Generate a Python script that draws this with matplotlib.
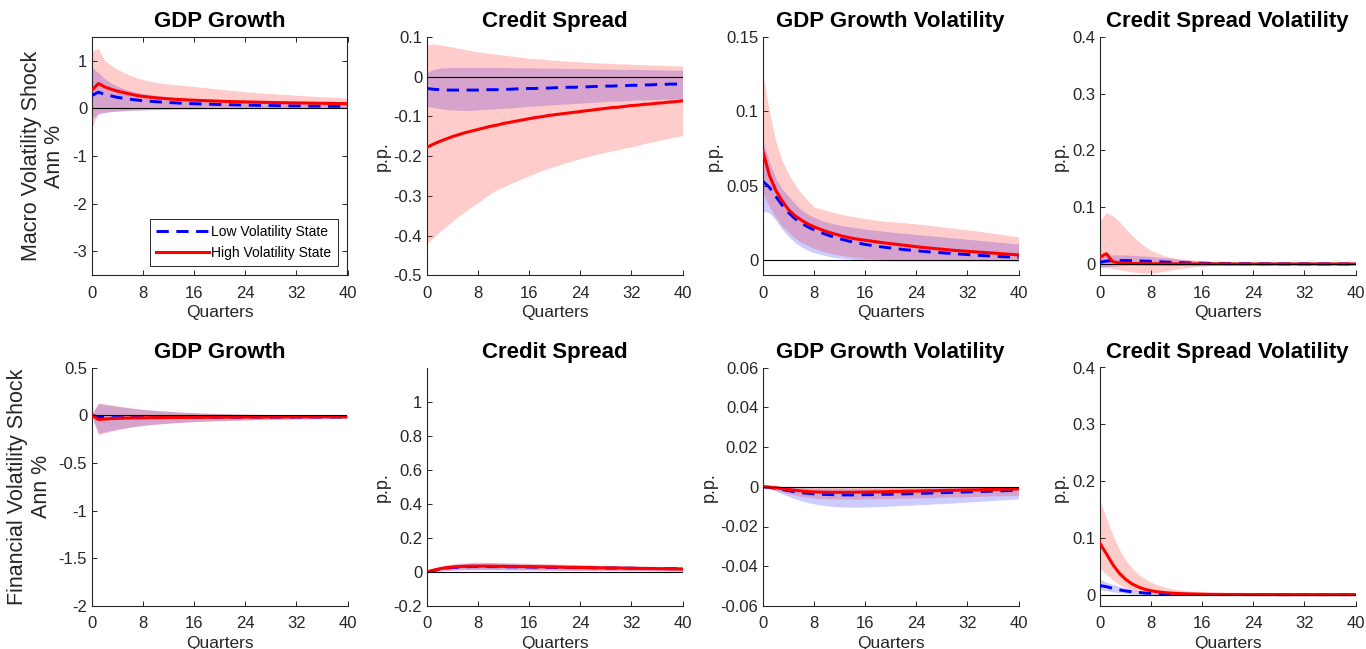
import matplotlib
matplotlib.use("Agg")
import matplotlib.pyplot as plt
from matplotlib.ticker import FuncFormatter, FixedLocator
from matplotlib.lines import Line2D

plt.rcParams['font.family'] = ['Liberation Sans', 'DejaVu Sans']
plt.rcParams['axes.unicode_minus'] = False

quarters = list(range(41))
xticks = [0, 8, 16, 24, 32, 40]
titles = ["GDP Growth", "Credit Spread", "GDP Growth Volatility", "Credit Spread Volatility"]
row_labels = ["Macro Volatility Shock\nAnn %", "Financial Volatility Shock\nAnn %"]
legend_labels = ["Low Volatility State", "High Volatility State"]

# ---------------- Macro volatility shock: GDP growth ----------------
m_gdp_hi = [0.38,0.52,0.45,0.40,0.36,0.33,0.30,0.27,0.25,0.235,
            0.22,0.21,0.20,0.19,0.183,0.176,0.17,0.165,0.16,0.155,
            0.15,0.146,0.142,0.138,0.135,0.132,0.129,0.126,0.123,0.12,
            0.118,0.116,0.114,0.112,0.11,0.108,0.106,0.104,0.102,0.10,
            0.098]
m_gdp_lo = [0.27,0.34,0.29,0.26,0.23,0.21,0.19,0.175,0.16,0.15,
            0.14,0.13,0.122,0.115,0.108,0.102,0.097,0.092,0.088,0.084,
            0.08,0.077,0.074,0.071,0.068,0.066,0.063,0.061,0.059,0.057,
            0.055,0.053,0.051,0.05,0.048,0.047,0.045,0.044,0.043,0.042,
            0.04]
m_gdp_hi_up = [1.20,1.26,1.00,0.90,0.82,0.75,0.69,0.64,0.60,0.57,
               0.545,0.525,0.51,0.495,0.482,0.47,0.458,0.445,0.43,0.415,
               0.40,0.39,0.375,0.36,0.345,0.337,0.328,0.32,0.31,0.30,
               0.295,0.285,0.275,0.267,0.26,0.252,0.245,0.238,0.23,0.222,
               0.215]
m_gdp_hi_dn = [-0.40,-0.10,-0.08,-0.065,-0.055,-0.047,-0.04,-0.034,-0.03,-0.026,
               -0.022,-0.019,-0.016,-0.013,-0.011,-0.009,-0.007,-0.006,-0.005,-0.004,
               -0.003,-0.002,-0.001,0.0,0.0,0.001,0.001,0.002,0.002,0.003,
               0.003,0.004,0.004,0.005,0.005,0.006,0.006,0.007,0.007,0.008,
               0.008]
m_gdp_lo_up = [0.85,0.75,0.62,0.53,0.46,0.41,0.37,0.34,0.31,0.29,
               0.27,0.255,0.24,0.228,0.217,0.207,0.198,0.19,0.183,0.176,
               0.17,0.164,0.158,0.153,0.148,0.143,0.139,0.135,0.131,0.127,
               0.124,0.121,0.118,0.115,0.112,0.11,0.107,0.105,0.103,0.101,
               0.099]
m_gdp_lo_dn = [-0.22,-0.12,-0.09,-0.07,-0.058,-0.05,-0.043,-0.037,-0.032,-0.028,
               -0.025,-0.022,-0.02,-0.018,-0.016,-0.015,-0.014,-0.013,-0.012,-0.011,
               -0.01,-0.0095,-0.009,-0.0085,-0.008,-0.0075,-0.007,-0.0068,-0.0065,-0.0062,
               -0.006,-0.0058,-0.0056,-0.0054,-0.0052,-0.005,-0.0048,-0.0046,-0.0044,-0.0042,
               -0.004]

# ---------------- Macro volatility shock: Credit spread ----------------
m_cs_hi = [-0.178,-0.170,-0.163,-0.157,-0.151,-0.146,-0.141,-0.137,-0.133,-0.129,
           -0.125,-0.122,-0.118,-0.115,-0.112,-0.109,-0.106,-0.103,-0.101,-0.098,
           -0.096,-0.094,-0.092,-0.090,-0.088,-0.086,-0.084,-0.082,-0.080,-0.078,
           -0.077,-0.075,-0.073,-0.072,-0.070,-0.069,-0.067,-0.066,-0.064,-0.063,
           -0.061]
m_cs_lo = [-0.030,-0.032,-0.033,-0.034,-0.034,-0.034,-0.034,-0.034,-0.034,-0.033,
           -0.033,-0.033,-0.032,-0.032,-0.031,-0.031,-0.030,-0.030,-0.029,-0.029,
           -0.028,-0.028,-0.027,-0.027,-0.026,-0.026,-0.025,-0.025,-0.024,-0.024,
           -0.023,-0.023,-0.022,-0.022,-0.021,-0.021,-0.020,-0.020,-0.019,-0.019,
           -0.018]
m_cs_hi_up = [0.079,0.082,0.080,0.077,0.074,0.071,0.068,0.065,0.062,0.060,
              0.058,0.056,0.054,0.052,0.050,0.048,0.046,0.045,0.044,0.042,
              0.041,0.040,0.039,0.038,0.037,0.036,0.035,0.034,0.034,0.033,
              0.032,0.032,0.031,0.030,0.030,0.029,0.029,0.028,0.028,0.027,
              0.027]
m_cs_hi_dn = [-0.420,-0.405,-0.390,-0.377,-0.364,-0.351,-0.339,-0.328,-0.317,-0.305,
              -0.294,-0.284,-0.278,-0.270,-0.263,-0.256,-0.250,-0.243,-0.237,-0.231,
              -0.226,-0.221,-0.216,-0.211,-0.206,-0.202,-0.198,-0.194,-0.190,-0.187,
              -0.184,-0.180,-0.177,-0.173,-0.169,-0.165,-0.162,-0.158,-0.155,-0.152,
              -0.149]
m_cs_lo_up = [0.010,0.018,0.021,0.022,0.023,0.023,0.023,0.023,0.023,0.023,
              0.023,0.023,0.023,0.022,0.022,0.022,0.022,0.022,0.021,0.021,
              0.021,0.021,0.020,0.020,0.020,0.020,0.019,0.019,0.019,0.019,
              0.018,0.018,0.018,0.018,0.017,0.017,0.017,0.017,0.016,0.016,
              0.016]
m_cs_lo_dn = [-0.075,-0.078,-0.081,-0.083,-0.084,-0.085,-0.085,-0.085,-0.084,-0.083,
              -0.082,-0.081,-0.080,-0.079,-0.078,-0.076,-0.075,-0.074,-0.073,-0.072,
              -0.071,-0.070,-0.069,-0.068,-0.067,-0.066,-0.065,-0.064,-0.063,-0.062,
              -0.062,-0.061,-0.060,-0.059,-0.059,-0.058,-0.058,-0.057,-0.057,-0.056,
              -0.056]

# ---------------- Macro volatility shock: GDP growth volatility ----------------
m_gv_hi = [0.073,0.057,0.047,0.040,0.034,0.030,0.027,0.0245,0.0225,0.0208,
           0.0193,0.018,0.0168,0.0157,0.0148,0.0141,0.0135,0.0129,0.0123,0.0117,
           0.0112,0.0107,0.0102,0.0097,0.0092,0.0087,0.0083,0.0079,0.0075,0.0071,
           0.0067,0.0064,0.0061,0.0058,0.0055,0.0052,0.0049,0.0046,0.0043,0.004,
           0.0037]
m_gv_lo = [0.053,0.049,0.043,0.037,0.032,0.028,0.025,0.0225,0.0205,0.0188,
           0.0172,0.0158,0.0145,0.0134,0.0124,0.0115,0.0107,0.01,0.0094,0.0088,
           0.0083,0.0078,0.0073,0.0069,0.0065,0.0061,0.0057,0.0054,0.0051,0.0048,
           0.0045,0.0042,0.0039,0.0036,0.0033,0.0031,0.0029,0.0026,0.0024,0.0022,
           0.002]
m_gv_hi_up = [0.125,0.10,0.08,0.067,0.058,0.051,0.045,0.040,0.036,0.0345,
              0.0333,0.0322,0.0312,0.0303,0.0295,0.0287,0.028,0.0274,0.0268,0.0262,
              0.026,0.0257,0.0253,0.0249,0.0245,0.024,0.0235,0.023,0.0225,0.022,
              0.0215,0.021,0.0205,0.02,0.0194,0.0188,0.0182,0.0176,0.017,0.0164,
              0.0158]
m_gv_hi_dn = [0.045,0.036,0.029,0.023,0.019,0.015,0.012,0.010,0.008,0.0065,
              0.0053,0.0043,0.0035,0.0028,0.0022,0.0017,0.0013,0.001,0.0008,0.0006,
              0.0005,0.0004,0.0004,0.0004,0.0003,0.0003,0.0003,0.0003,0.0003,0.0003,
              0.0003,0.0003,0.0003,0.0003,0.0003,0.0003,0.0003,0.0003,0.0003,0.0003,
              0.0003]
m_gv_lo_up = [0.080,0.066,0.055,0.048,0.043,0.038,0.034,0.031,0.029,0.027,
              0.0257,0.0246,0.0237,0.0229,0.0222,0.0216,0.021,0.0205,0.02,0.0195,
              0.019,0.0186,0.0182,0.0178,0.0174,0.017,0.0166,0.0162,0.0158,0.0154,
              0.015,0.0146,0.0142,0.0138,0.0134,0.013,0.0126,0.0122,0.0118,0.0114,
              0.011]
m_gv_lo_dn = [0.033,0.032,0.027,0.021,0.016,0.012,0.009,0.0068,0.0052,0.004,
              0.003,0.0022,0.0016,0.0011,0.0007,0.0004,0.0002,0.0,-0.0002,-0.0003,
              -0.0004,-0.0005,-0.0005,-0.0005,-0.0005,-0.0005,-0.0005,-0.0005,-0.0005,-0.0005,
              -0.0005,-0.0005,-0.0005,-0.0005,-0.0005,-0.0005,-0.0005,-0.0005,-0.0005,-0.0005,
              -0.0005]

# ---------------- Macro volatility shock: Credit spread volatility ----------------
m_sv_hi = [0.012,0.018,0.004,0.002,0.0012,0.0008,0.0005,0.0004,0.0003,0.0002,
           0.0002,0.0001,0.0001,0.0001,0.0001,0.0001,0.0001,0.0001,0.0001,0.0001,
           0.0,0.0,0.0,0.0,0.0,0.0,0.0,0.0,0.0,0.0,
           0.0,0.0,0.0,0.0,0.0,0.0,0.0,0.0,0.0,0.0,
           0.0]
m_sv_lo = [0.003,0.005,0.006,0.006,0.006,0.0058,0.0055,0.005,0.0045,0.004,
           0.0035,0.003,0.0026,0.0022,0.0018,0.0015,0.0012,0.001,0.0008,0.0006,
           0.0005,0.0004,0.0004,0.0003,0.0003,0.0002,0.0002,0.0002,0.0001,0.0001,
           0.0001,0.0001,0.0001,0.0,0.0,0.0,0.0,0.0,0.0,0.0,
           0.0]
m_sv_hi_up = [0.075,0.091,0.085,0.075,0.062,0.050,0.040,0.031,0.024,0.019,
              0.015,0.012,0.010,0.0085,0.0072,0.0062,0.0054,0.0047,0.0041,0.0036,
              0.0032,0.0029,0.0026,0.0024,0.0022,0.002,0.0019,0.0018,0.0017,0.0016,
              0.0015,0.0014,0.0014,0.0013,0.0013,0.0012,0.0012,0.0011,0.0011,0.001,
              0.001]
m_sv_hi_dn = [-0.005,-0.006,-0.008,-0.010,-0.012,-0.014,-0.015,-0.016,-0.016,-0.015,
              -0.013,-0.011,-0.009,-0.0075,-0.006,-0.005,-0.004,-0.0033,-0.0027,-0.0022,
              -0.0018,-0.0015,-0.0013,-0.0011,-0.001,-0.0009,-0.0008,-0.0007,-0.0007,-0.0006,
              -0.0006,-0.0005,-0.0005,-0.0005,-0.0004,-0.0004,-0.0004,-0.0004,-0.0003,-0.0003,
              -0.0003]
m_sv_lo_up = [0.012,0.015,0.016,0.016,0.016,0.015,0.0145,0.014,0.013,0.012,
              0.011,0.0098,0.0087,0.0077,0.0068,0.006,0.0053,0.0046,0.004,0.0035,
              0.003,0.0027,0.0024,0.0021,0.0019,0.0017,0.0015,0.0013,0.0012,0.0011,
              0.001,0.0009,0.0008,0.0008,0.0007,0.0007,0.0006,0.0006,0.0005,0.0005,
              0.0005]
m_sv_lo_dn = [-0.006,-0.005,-0.004,-0.003,-0.0025,-0.002,-0.0018,-0.0016,-0.0014,-0.0013,
              -0.0012,-0.0011,-0.001,-0.0009,-0.0008,-0.0008,-0.0007,-0.0007,-0.0006,-0.0006,
              -0.0005,-0.0005,-0.0005,-0.0005,-0.0005,-0.0005,-0.0005,-0.0005,-0.0005,-0.0005,
              -0.0005,-0.0005,-0.0005,-0.0005,-0.0005,-0.0005,-0.0005,-0.0005,-0.0005,-0.0005,
              -0.0005]

# ---------------- Financial volatility shock: GDP growth ----------------
f_gdp_hi = [0.0,-0.045,-0.040,-0.036,-0.033,-0.031,-0.029,-0.028,-0.027,-0.026,
            -0.025,-0.025,-0.024,-0.024,-0.023,-0.023,-0.022,-0.022,-0.022,-0.021,
            -0.021,-0.021,-0.020,-0.020,-0.020,-0.019,-0.019,-0.019,-0.018,-0.018,
            -0.018,-0.018,-0.017,-0.017,-0.017,-0.017,-0.016,-0.016,-0.016,-0.016,
            -0.016]
f_gdp_lo = [0.0,-0.020,-0.025,-0.026,-0.026,-0.026,-0.025,-0.025,-0.025,-0.024,
            -0.024,-0.024,-0.023,-0.023,-0.023,-0.023,-0.022,-0.022,-0.022,-0.022,
            -0.021,-0.021,-0.021,-0.021,-0.020,-0.020,-0.020,-0.020,-0.020,-0.019,
            -0.019,-0.019,-0.019,-0.019,-0.018,-0.018,-0.018,-0.018,-0.018,-0.018,
            -0.018]
f_gdp_hi_up = [0.02,0.13,0.12,0.108,0.097,0.087,0.078,0.070,0.063,0.057,
               0.051,0.046,0.041,0.037,0.033,0.030,0.027,0.024,0.022,0.020,
               0.018,0.016,0.014,0.013,0.011,0.010,0.009,0.008,0.007,0.006,
               0.005,0.004,0.003,0.002,0.002,0.001,0.001,0.0,0.0,-0.001,
               -0.001]
f_gdp_hi_dn = [-0.02,-0.205,-0.185,-0.168,-0.153,-0.140,-0.129,-0.119,-0.110,-0.103,
               -0.096,-0.090,-0.085,-0.080,-0.076,-0.072,-0.069,-0.066,-0.063,-0.060,
               -0.058,-0.056,-0.054,-0.052,-0.050,-0.049,-0.047,-0.046,-0.045,-0.044,
               -0.043,-0.042,-0.041,-0.040,-0.039,-0.039,-0.038,-0.037,-0.037,-0.036,
               -0.036]
f_gdp_lo_up = [0.015,0.12,0.112,0.102,0.092,0.083,0.075,0.067,0.060,0.054,
               0.049,0.044,0.040,0.036,0.032,0.029,0.026,0.023,0.021,0.019,
               0.017,0.015,0.013,0.012,0.010,0.009,0.008,0.007,0.006,0.005,
               0.004,0.003,0.003,0.002,0.001,0.001,0.0,0.0,-0.001,-0.001,
               -0.002]
f_gdp_lo_dn = [-0.015,-0.19,-0.175,-0.16,-0.146,-0.134,-0.123,-0.114,-0.106,-0.099,
               -0.093,-0.087,-0.082,-0.078,-0.074,-0.070,-0.067,-0.064,-0.061,-0.059,
               -0.057,-0.055,-0.053,-0.051,-0.049,-0.048,-0.046,-0.045,-0.044,-0.043,
               -0.042,-0.041,-0.040,-0.039,-0.038,-0.037,-0.037,-0.036,-0.035,-0.035,
               -0.034]

# ---------------- Financial volatility shock: Credit spread ----------------
f_cs_hi = [0.0,0.010,0.019,0.025,0.029,0.031,0.033,0.034,0.034,0.034,
           0.034,0.033,0.033,0.032,0.032,0.031,0.031,0.030,0.030,0.029,
           0.029,0.028,0.027,0.027,0.026,0.026,0.025,0.024,0.024,0.023,
           0.023,0.022,0.021,0.021,0.020,0.020,0.019,0.019,0.018,0.018,
           0.017]
f_cs_lo = [0.0,0.008,0.016,0.022,0.026,0.028,0.030,0.031,0.031,0.031,
           0.031,0.031,0.030,0.030,0.030,0.029,0.029,0.028,0.028,0.027,
           0.027,0.026,0.026,0.025,0.025,0.025,0.024,0.024,0.023,0.023,
           0.022,0.022,0.022,0.021,0.021,0.020,0.020,0.020,0.019,0.019,
           0.019]
f_cs_hi_up = [0.004,0.020,0.032,0.041,0.047,0.051,0.054,0.056,0.057,0.057,
              0.057,0.056,0.055,0.054,0.053,0.052,0.051,0.050,0.049,0.048,
              0.047,0.046,0.045,0.044,0.043,0.042,0.041,0.040,0.039,0.038,
              0.037,0.036,0.035,0.034,0.034,0.033,0.032,0.032,0.031,0.031,
              0.030]
f_cs_hi_dn = [-0.004,0.000,0.006,0.010,0.012,0.014,0.015,0.015,0.015,0.015,
              0.015,0.014,0.014,0.014,0.013,0.013,0.013,0.012,0.012,0.012,
              0.011,0.011,0.011,0.010,0.010,0.010,0.009,0.009,0.009,0.008,
              0.008,0.008,0.007,0.007,0.007,0.006,0.006,0.006,0.005,0.005,
              0.005]
f_cs_lo_up = [0.003,0.018,0.029,0.037,0.043,0.047,0.050,0.052,0.053,0.053,
              0.053,0.052,0.051,0.050,0.049,0.048,0.047,0.046,0.045,0.044,
              0.043,0.042,0.041,0.040,0.040,0.039,0.038,0.037,0.036,0.036,
              0.035,0.034,0.034,0.033,0.032,0.032,0.031,0.031,0.030,0.030,
              0.029]
f_cs_lo_dn = [-0.003,0.000,0.005,0.008,0.010,0.011,0.012,0.012,0.012,0.012,
              0.012,0.012,0.012,0.011,0.011,0.011,0.011,0.010,0.010,0.010,
              0.010,0.009,0.009,0.009,0.009,0.009,0.008,0.008,0.008,0.008,
              0.008,0.007,0.007,0.007,0.007,0.007,0.007,0.006,0.006,0.006,
              0.006]

# ---------------- Financial volatility shock: GDP growth volatility ----------------
f_gv_hi = [0.0,-0.0002,-0.0005,-0.001,-0.0014,-0.0018,-0.0021,-0.0024,-0.0026,-0.0027,
           -0.0028,-0.0028,-0.0028,-0.0028,-0.0028,-0.0027,-0.0027,-0.0026,-0.0026,-0.0025,
           -0.0024,-0.0024,-0.0023,-0.0022,-0.0022,-0.0021,-0.002,-0.002,-0.0019,-0.0018,
           -0.0018,-0.0017,-0.0016,-0.0016,-0.0015,-0.0014,-0.0014,-0.0013,-0.0012,-0.0012,
           -0.0011]
f_gv_lo = [0.0,-0.0003,-0.0008,-0.0014,-0.002,-0.0025,-0.003,-0.0033,-0.0036,-0.0038,
           -0.0039,-0.004,-0.0041,-0.0041,-0.0041,-0.0041,-0.004,-0.004,-0.0039,-0.0038,
           -0.0038,-0.0037,-0.0036,-0.0035,-0.0034,-0.0033,-0.0032,-0.0031,-0.003,-0.0029,
           -0.0028,-0.0027,-0.0026,-0.0025,-0.0024,-0.0023,-0.0022,-0.0021,-0.002,-0.0019,
           -0.0018]
f_gv_hi_up = [0.0005,0.0006,0.0005,0.0004,0.0002,0.0,-0.0001,-0.0002,-0.0002,-0.0002,
              -0.0002,-0.0002,-0.0002,-0.0002,-0.0002,-0.0002,-0.0002,-0.0002,-0.0002,-0.0002,
              -0.0002,-0.0002,-0.0002,-0.0002,-0.0002,-0.0002,-0.0002,-0.0002,-0.0002,-0.0002,
              -0.0001,-0.0001,-0.0001,-0.0001,-0.0001,-0.0001,-0.0001,-0.0001,-0.0001,-0.0001,
              -0.0001]
f_gv_hi_dn = [-0.0004,-0.001,-0.0018,-0.0027,-0.0035,-0.0042,-0.0048,-0.0053,-0.0056,-0.0059,
              -0.006,-0.0061,-0.0062,-0.0062,-0.0062,-0.0062,-0.0061,-0.0061,-0.006,-0.006,
              -0.0059,-0.0058,-0.0058,-0.0057,-0.0056,-0.0055,-0.0055,-0.0054,-0.0053,-0.0052,
              -0.0051,-0.0051,-0.005,-0.0049,-0.0048,-0.0047,-0.0046,-0.0046,-0.0045,-0.0044,
              -0.0043]
f_gv_lo_up = [0.0003,0.0003,0.0002,0.0,-0.0002,-0.0004,-0.0005,-0.0006,-0.0007,-0.0007,
              -0.0008,-0.0008,-0.0008,-0.0008,-0.0008,-0.0008,-0.0008,-0.0008,-0.0008,-0.0008,
              -0.0007,-0.0007,-0.0007,-0.0007,-0.0007,-0.0006,-0.0006,-0.0006,-0.0006,-0.0006,
              -0.0005,-0.0005,-0.0005,-0.0005,-0.0005,-0.0005,-0.0004,-0.0004,-0.0004,-0.0004,
              -0.0004]
f_gv_lo_dn = [-0.0003,-0.001,-0.0022,-0.0035,-0.0048,-0.006,-0.007,-0.0079,-0.0086,-0.0092,
              -0.0096,-0.0099,-0.0101,-0.0102,-0.0103,-0.0103,-0.0102,-0.0101,-0.01,-0.0099,
              -0.0097,-0.0096,-0.0094,-0.0093,-0.0091,-0.0089,-0.0088,-0.0086,-0.0084,-0.0083,
              -0.0081,-0.0079,-0.0077,-0.0075,-0.0073,-0.0071,-0.0069,-0.0067,-0.0065,-0.0063,
              -0.0061]

# ---------------- Financial volatility shock: Credit spread volatility ----------------
f_sv_hi = [0.090,0.072,0.053,0.038,0.027,0.019,0.0135,0.0095,0.0068,0.005,
           0.0037,0.0028,0.0021,0.0016,0.0012,0.001,0.0008,0.0006,0.0005,0.0004,
           0.0003,0.0003,0.0003,0.0002,0.0002,0.0002,0.0002,0.0002,0.0001,0.0001,
           0.0001,0.0001,0.0001,0.0001,0.0001,0.0001,0.0001,0.0001,0.0001,0.0001,
           0.0001]
f_sv_lo = [0.016,0.014,0.011,0.0085,0.0065,0.005,0.0038,0.0029,0.0022,0.0017,
           0.0013,0.001,0.0008,0.0006,0.0005,0.0004,0.0003,0.0002,0.0002,0.0001,
           0.0001,0.0001,0.0001,0.0001,0.0,0.0,0.0,0.0,0.0,0.0,
           0.0,0.0,0.0,0.0,0.0,0.0,0.0,0.0,0.0,0.0,
           0.0]
f_sv_hi_up = [0.165,0.135,0.105,0.080,0.061,0.047,0.036,0.028,0.022,0.017,
              0.0135,0.011,0.009,0.0075,0.0063,0.0053,0.0045,0.0039,0.0034,0.003,
              0.0026,0.0023,0.002,0.0018,0.0016,0.0014,0.0013,0.0012,0.0011,0.001,
              0.0009,0.0008,0.0008,0.0007,0.0007,0.0006,0.0006,0.0006,0.0005,0.0005,
              0.0005]
f_sv_hi_dn = [0.045,0.036,0.026,0.018,0.012,0.008,0.0053,0.0035,0.0023,0.0015,
              0.001,0.0006,0.0004,0.0002,0.0001,0.0,-0.0001,-0.0001,-0.0002,-0.0002,
              -0.0002,-0.0002,-0.0002,-0.0002,-0.0003,-0.0003,-0.0003,-0.0003,-0.0003,-0.0003,
              -0.0003,-0.0003,-0.0003,-0.0003,-0.0003,-0.0003,-0.0003,-0.0003,-0.0003,-0.0003,
              -0.0003]
f_sv_lo_up = [0.027,0.022,0.018,0.0145,0.0115,0.009,0.007,0.0055,0.0043,0.0034,
              0.0027,0.0021,0.0017,0.0014,0.0011,0.0009,0.0007,0.0006,0.0005,0.0004,
              0.0004,0.0003,0.0003,0.0003,0.0002,0.0002,0.0002,0.0002,0.0002,0.0002,
              0.0001,0.0001,0.0001,0.0001,0.0001,0.0001,0.0001,0.0001,0.0001,0.0001,
              0.0001]
f_sv_lo_dn = [0.009,0.007,0.005,0.0035,0.0024,0.0015,0.0009,0.0005,0.0002,0.0,
              -0.0002,-0.0003,-0.0004,-0.0004,-0.0005,-0.0005,-0.0005,-0.0005,-0.0005,-0.0005,
              -0.0005,-0.0005,-0.0005,-0.0005,-0.0005,-0.0005,-0.0005,-0.0005,-0.0005,-0.0005,
              -0.0005,-0.0005,-0.0005,-0.0005,-0.0005,-0.0005,-0.0005,-0.0005,-0.0005,-0.0005,
              -0.0005]

# (lo, lo_up, lo_dn, hi, hi_up, hi_dn, ylim, yticks, ylabel)
panels = [
    (m_gdp_lo, m_gdp_lo_up, m_gdp_lo_dn, m_gdp_hi, m_gdp_hi_up, m_gdp_hi_dn,
     (-3.5, 1.5), [-3, -2, -1, 0, 1], row_labels[0]),
    (m_cs_lo, m_cs_lo_up, m_cs_lo_dn, m_cs_hi, m_cs_hi_up, m_cs_hi_dn,
     (-0.5, 0.1), [-0.5, -0.4, -0.3, -0.2, -0.1, 0, 0.1], "p.p."),
    (m_gv_lo, m_gv_lo_up, m_gv_lo_dn, m_gv_hi, m_gv_hi_up, m_gv_hi_dn,
     (-0.01, 0.15), [0, 0.05, 0.1, 0.15], "p.p."),
    (m_sv_lo, m_sv_lo_up, m_sv_lo_dn, m_sv_hi, m_sv_hi_up, m_sv_hi_dn,
     (-0.02, 0.4), [0, 0.1, 0.2, 0.3, 0.4], "p.p."),
    (f_gdp_lo, f_gdp_lo_up, f_gdp_lo_dn, f_gdp_hi, f_gdp_hi_up, f_gdp_hi_dn,
     (-2, 0.5), [-2, -1.5, -1, -0.5, 0, 0.5], row_labels[1]),
    (f_cs_lo, f_cs_lo_up, f_cs_lo_dn, f_cs_hi, f_cs_hi_up, f_cs_hi_dn,
     (-0.2, 1.2), [-0.2, 0, 0.2, 0.4, 0.6, 0.8, 1], "p.p."),
    (f_gv_lo, f_gv_lo_up, f_gv_lo_dn, f_gv_hi, f_gv_hi_up, f_gv_hi_dn,
     (-0.06, 0.06), [-0.06, -0.04, -0.02, 0, 0.02, 0.04, 0.06], "p.p."),
    (f_sv_lo, f_sv_lo_up, f_sv_lo_dn, f_sv_hi, f_sv_hi_up, f_sv_hi_dn,
     (-0.02, 0.4), [0, 0.1, 0.2, 0.3, 0.4], "p.p."),
]

W, H = 1366, 649
fig = plt.figure(figsize=(W / 100, H / 100), dpi=100)
lefts_px = [92, 427, 763, 1100]
row_bottom_px = [275.3, 606.0]
ax_w_px, ax_h_px = 255.5, 238.5

TXT = '#262626'
fmt = FuncFormatter(lambda v, p: ('%g' % round(v, 6)))

for i, (lo, lo_up, lo_dn, hi, hi_up, hi_dn, ylim, yt, ylab) in enumerate(panels):
    r, c = divmod(i, 4)
    ax = fig.add_axes([lefts_px[c] / W, 1 - row_bottom_px[r] / H, ax_w_px / W, ax_h_px / H])
    ax.fill_between(quarters, lo_dn, lo_up, color='#0000ff', alpha=0.2, linewidth=0, zorder=1)
    ax.fill_between(quarters, hi_dn, hi_up, color='#ff0000', alpha=0.2, linewidth=0, zorder=2)
    ax.plot(quarters, lo, color='#0000ff', lw=2.1, dashes=(4.2, 2.6), zorder=3)
    ax.plot(quarters, hi, color='#ff0000', lw=2.2, zorder=4)
    ax.axhline(0, color='black', lw=0.8, zorder=5)
    ax.set_xlim(0, 40)
    ax.set_ylim(*ylim)
    ax.xaxis.set_major_locator(FixedLocator(xticks))
    ax.yaxis.set_major_locator(FixedLocator(yt))
    ax.yaxis.set_major_formatter(fmt)
    ax.xaxis.set_major_formatter(fmt)
    ax.tick_params(direction='in', length=3.5, width=0.7, labelsize=12, colors=TXT)
    ax.tick_params(axis='x', pad=7.5)
    ax.tick_params(axis='y', pad=3.5)
    boxed = (i == 0)
    for side in ['left', 'bottom']:
        ax.spines[side].set_color(TXT)
        ax.spines[side].set_linewidth(0.8)
    for side in ['top', 'right']:
        ax.spines[side].set_visible(boxed)
        ax.spines[side].set_color(TXT)
        ax.spines[side].set_linewidth(0.8)
    if boxed:
        ax.tick_params(top=True, right=True)
    ax.set_title(titles[c], fontsize=16, fontweight='bold', color='black', pad=7)
    ax.set_xlabel("Quarters", fontsize=12.5, color=TXT, labelpad=3)
    if c == 0:
        ax.set_ylabel(ylab, fontsize=15.5, color=TXT, labelpad=5, linespacing=1.15)
    else:
        ax.set_ylabel(ylab, fontsize=13, color=TXT, labelpad=2)
    if i == 0:
        handles = [Line2D([], [], color='#0000ff', lw=2.1, dashes=(4.2, 2.6)),
                   Line2D([], [], color='#ff0000', lw=2.2)]
        leg = ax.legend(handles, legend_labels, loc='lower right',
                        bbox_to_anchor=(0.962, 0.04), fontsize=10, frameon=True,
                        fancybox=False, edgecolor=TXT, framealpha=1,
                        handlelength=3.8, handletextpad=0.2, borderpad=0.45,
                        labelspacing=0.45, borderaxespad=0)
        leg.get_frame().set_linewidth(0.7)

fig.savefig("out.png", dpi=100)
